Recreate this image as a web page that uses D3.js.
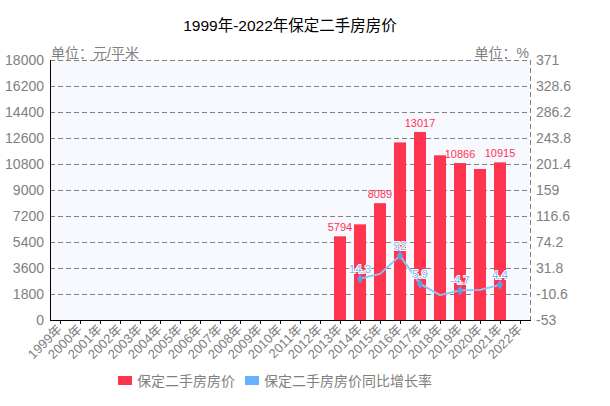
<!DOCTYPE html>
<html><head><meta charset="utf-8">
<script src="https://cdn.jsdelivr.net/npm/d3@7"></script>
<style>
body{margin:0;background:#fff;}
text{font-family:"Liberation Sans","Noto Sans CJK SC",sans-serif;}
</style></head>
<body><svg id="c" width="610" height="406"></svg>
<script>
const years = ["1999年","2000年","2001年","2002年","2003年","2004年","2005年","2006年","2007年","2008年","2009年","2010年","2011年","2012年","2013年","2014年","2015年","2016年","2017年","2018年","2019年","2020年","2021年","2022年"];
const prices = [null,null,null,null,null,null,null,null,null,null,null,null,null,null,5794,6623,8089,12295,13017,11402,10866,10455,10915,null];
const growth = [null,null,null,null,null,null,null,null,null,null,null,null,null,null,null,14.3,22.1,52,5.9,-12.4,-4.7,-3.8,4.4,null];
const priceLabelYears = ["2013年","2015年","2017年","2019年","2021年"];
const growthLabelYears = ["2014年","2016年","2017年","2019年","2021年"];
const leftTicks = [0,1800,3600,5400,7200,9000,10800,12600,14400,16200,18000];
const rightTicks = [-53,-10.6,31.8,74.2,116.6,159,201.4,243.8,286.2,328.6,371];
const title = "1999年-2022年保定二手房房价";
const seriesNames = ["保定二手房房价","保定二手房房价同比增长率"];

const svg = d3.select("#c");
const L=50,R=530,T=60,B=320;
const x = d3.scaleBand().domain(years).range([L,R]);
const yL = d3.scaleLinear().domain([0,18000]).range([B,T]);
const yR = d3.scaleLinear().domain([-53,371]).range([B,T]);
const red="#FF3550", blue="#66B2FF";

svg.append("text").attr("x",290).attr("y",31).attr("text-anchor","middle")
  .style("font-size","15.5px").attr("fill","#000").text(title);

svg.append("rect").attr("x",L).attr("y",T).attr("width",R-L).attr("height",B-T).attr("fill","#F8F9FF");

// grid
svg.append("g").selectAll("line").data(leftTicks.slice(1)).join("line")
  .attr("x1",L).attr("x2",R).attr("y1",d=>yL(d)+0.5).attr("y2",d=>yL(d)+0.5)
  .attr("stroke","#808080").attr("stroke-dasharray","5,3");
svg.append("line").attr("x1",R+0.5).attr("x2",R+0.5).attr("y1",T).attr("y2",B)
  .attr("stroke","#808080").attr("stroke-dasharray","5,3");

// axis labels
svg.append("g").selectAll("text").data(leftTicks).join("text")
  .attr("x",L-6).attr("y",d=>yL(d)+5).attr("text-anchor","end")
  .style("font-size","14px").attr("fill","#808080").text(d=>d);
svg.append("g").selectAll("text").data(rightTicks).join("text")
  .attr("x",R+6).attr("y",d=>yR(d)+5).attr("text-anchor","start")
  .style("font-size","14px").attr("fill","#808080").text(d=>d);
svg.append("text").attr("x",L+1).attr("y",T-2).style("font-size","14px").attr("fill","#808080").text("单位：元/平米");
svg.append("text").attr("x",R-1).attr("y",T-2).attr("text-anchor","end").style("font-size","14px").attr("fill","#808080").text("单位：%");

// bars
const bw=12;
svg.append("g").selectAll("rect").data(years.map((y,i)=>({y,v:prices[i]})).filter(d=>d.v!=null)).join("rect")
  .attr("x",d=>x(d.y)+x.bandwidth()/2-bw/2).attr("width",bw)
  .attr("y",d=>yL(d.v)).attr("height",d=>B-yL(d.v)).attr("fill",red);
svg.append("g").selectAll("text").data(years.map((y,i)=>({y,v:prices[i]})).filter(d=>priceLabelYears.includes(d.y))).join("text")
  .attr("x",d=>x(d.y)+x.bandwidth()/2).attr("y",d=>yL(d.v)-5).attr("text-anchor","middle")
  .style("font-size","11px").attr("fill",red).text(d=>d.v);

// axes lines
svg.append("line").attr("x1",L+0.5).attr("x2",L+0.5).attr("y1",T).attr("y2",B+1).attr("stroke","#000");
svg.append("line").attr("x1",L).attr("x2",R+1).attr("y1",B+0.5).attr("y2",B+0.5).attr("stroke","#000");
svg.append("g").selectAll("line").data(years).join("line")
  .attr("x1",d=>x(d)+x.bandwidth()/2+0.5).attr("x2",d=>x(d)+x.bandwidth()/2+0.5)
  .attr("y1",B).attr("y2",B+4).attr("stroke","#000");
svg.append("g").selectAll("text").data(years).join("text")
  .attr("transform",d=>`translate(${x(d)+x.bandwidth()/2+3},${B+10}) rotate(-45)`)
  .attr("text-anchor","end").style("font-size","13px").attr("fill","#808080").text(d=>d);

// line
const gd = years.map((y,i)=>({y,v:growth[i]})).filter(d=>d.v!=null);
const line = d3.line().x(d=>x(d.y)+x.bandwidth()/2).y(d=>yR(d.v));
svg.append("path").datum(gd).attr("d",line).attr("fill","none").attr("stroke","#8EC3F5").attr("stroke-width",1.8).attr("stroke-linejoin","round");
const lab = gd.filter(d=>growthLabelYears.includes(d.y));
svg.append("g").selectAll("path").data(lab).join("path")
  .attr("d",d3.symbol(d3.symbolDiamond,30))
  .attr("transform",d=>`translate(${x(d.y)+x.bandwidth()/2},${yR(d.v)})`).attr("fill","#5E9FE8");
svg.append("g").selectAll("text").data(lab).join("text")
  .attr("x",d=>x(d.y)+x.bandwidth()/2).attr("y",d=>yR(d.v)-6).attr("text-anchor","middle")
  .style("font-size","11.5px").attr("fill","#7DB9F8").attr("stroke","#fff").attr("stroke-width",2).attr("paint-order","stroke").text(d=>d.v);

// legend
const lg = svg.append("g");
lg.append("rect").attr("x",118).attr("y",376).attr("width",14).attr("height",9).attr("fill",red);
lg.append("text").attr("x",137).attr("y",386).style("font-size","14px").attr("fill","#808080").text(seriesNames[0]);
lg.append("rect").attr("x",245).attr("y",376).attr("width",14).attr("height",9).attr("fill",blue);
lg.append("text").attr("x",264).attr("y",386).style("font-size","14px").attr("fill","#808080").text(seriesNames[1]);
</script></body></html>
